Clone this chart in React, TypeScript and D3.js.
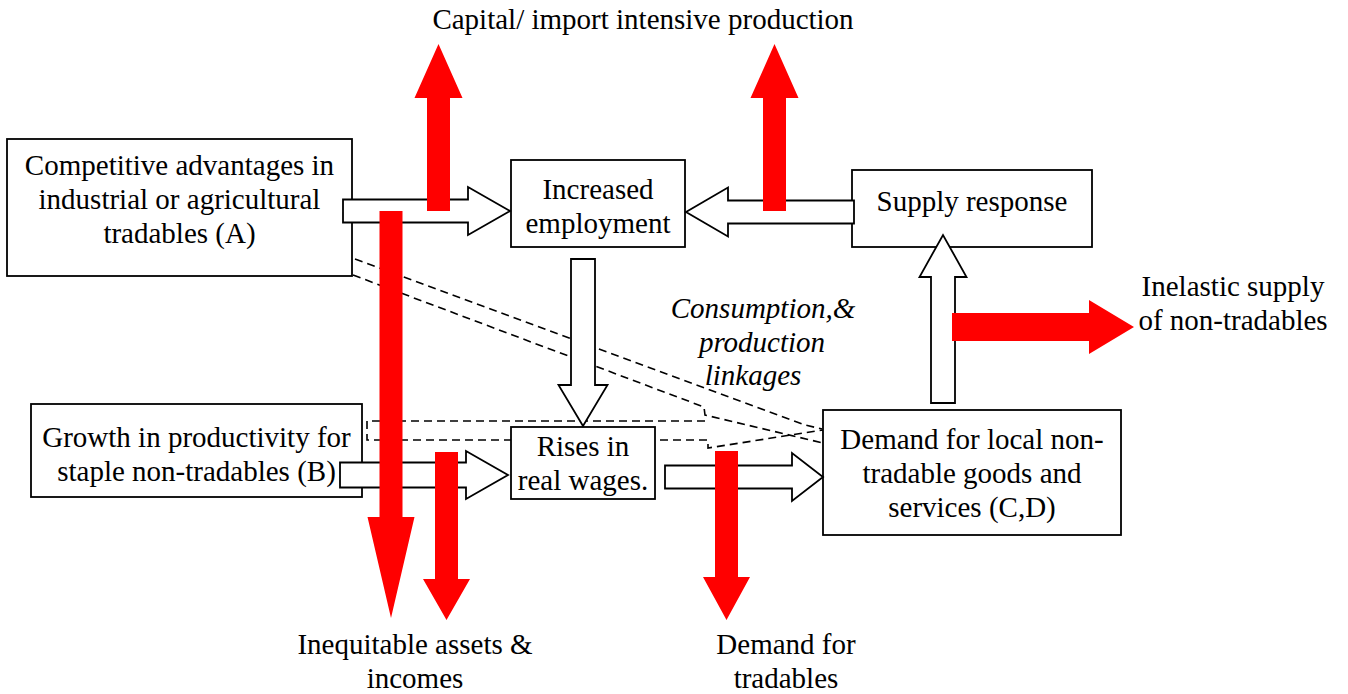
import React, { useEffect, useRef } from 'react';
import * as d3 from 'd3';

// box labels (one array of lines per box)
const boxLabels = [
  ['Competitive advantages in', 'industrial or agricultural', 'tradables (A)'],
  ['Increased', 'employment'],
  ['Supply response'],
  ['Growth in productivity for', 'staple non-tradables (B)'],
  ['Rises in', 'real wages.'],
  ['Demand for local non-', 'tradable goods and', 'services (C,D)'],
];

// free-standing labels
const freeLabels = [
  ['Capital/ import intensive production'],
  ['Inelastic supply', 'of non-tradables'],
  ['Inequitable assets &', 'incomes'],
  ['Demand for', 'tradables'],
];
const linkageLabel = ['Consumption,&', 'production', 'linkages'];

// layout: [x, y, w, h, first baseline]
const boxLayout = [
  [7, 139, 345, 137, 175],
  [511, 160, 174, 87, 199],
  [852, 170, 240, 77, 211],
  [31, 404, 331, 93, 447],
  [511, 427, 144, 72, 456],
  [823, 410, 298, 125, 449],
];
// [center x, first baseline]
const freeLayout = [
  [643, 29],
  [1233, 296],
  [415, 654],
  [786, 654],
];
const linkageLayout = [[763, 318], [762, 352], [753, 385]];

// hollow arrows: [x0, y0, x1 (tip), y1 (tip), shaft, head, headLen]
const hollowArrows = [
  [343, 211, 510, 211, 23, 48, 42],
  [854, 212, 686, 212, 23, 49, 42],
  [583, 259, 583, 426, 24, 49, 41],
  [340, 475, 508, 475, 25, 48, 42],
  [665, 477, 823, 477, 23, 48, 31],
  [943, 403, 943, 235, 24, 47, 42],
];
// red arrows
const redArrows = [
  [438.5, 211, 438.5, 44, 23, 48, 54],
  [774.5, 211, 774.5, 44, 23, 48, 54],
  [391, 211, 391, 618, 23, 47, 101],
  [446.5, 452, 446.5, 620, 23, 47, 41],
  [726.5, 451, 726.5, 620, 23, 47, 43],
  [952, 327, 1134, 327, 28, 54, 45],
];
// dashed linkage lines
const dashedLines: number[][][] = [
  [[355, 259], [805, 425], [822, 429]],
  [[353, 275], [704, 407], [705, 415], [823, 443]],
  [[705, 421], [367, 421], [367, 440], [708, 440], [708, 448], [823, 430]],
];

const FONT = '"Liberation Serif", "Times New Roman", serif';
const SIZE = 29;
const LH = 34;

function arrowPoints(a: number[]): [number, number][] {
  const [x0, y0, x1, y1, sw, hw, hl] = a;
  const L = Math.hypot(x1 - x0, y1 - y0);
  const ux = (x1 - x0) / L, uy = (y1 - y0) / L;
  const nx = -uy, ny = ux;
  const bx = x1 - ux * hl, by = y1 - uy * hl;
  const p = (x: number, y: number, k: number): [number, number] => [x + nx * k, y + ny * k];
  return [
    p(x0, y0, sw / 2),
    p(bx, by, sw / 2),
    p(bx, by, hw / 2),
    [x1, y1],
    p(bx, by, -hw / 2),
    p(bx, by, -sw / 2),
    p(x0, y0, -sw / 2),
  ];
}

export default function App() {
  const ref = useRef<SVGSVGElement>(null);

  useEffect(() => {
    const svg = d3.select(ref.current);
    svg.selectAll('*').remove();
    const line = d3.line();
    const poly = d3.line().curve(d3.curveLinearClosed);

    // dashed linkages underneath
    svg.append('g')
      .attr('fill', 'none')
      .attr('stroke', 'black')
      .attr('stroke-width', 1.6)
      .attr('stroke-dasharray', '8,5')
      .selectAll('path')
      .data(dashedLines)
      .join('path')
      .attr('d', d => line(d as [number, number][]));

    // boxes
    const boxes = svg.append('g').selectAll('g').data(boxLabels).join('g');
    boxes.append('rect')
      .attr('x', (_, i) => boxLayout[i][0])
      .attr('y', (_, i) => boxLayout[i][1])
      .attr('width', (_, i) => boxLayout[i][2])
      .attr('height', (_, i) => boxLayout[i][3])
      .attr('fill', 'white')
      .attr('stroke', 'black')
      .attr('stroke-width', 1.8);
    boxes.each(function (lines, i) {
      const [x, , w, , b] = boxLayout[i];
      d3.select(this).selectAll('text')
        .data(lines)
        .join('text')
        .attr('x', x + w / 2)
        .attr('y', (_, j) => b + j * LH)
        .attr('text-anchor', 'middle')
        .style('font-family', FONT)
        .style('font-size', `${SIZE}px`)
        .text(d => d);
    });

    // hollow arrows
    svg.append('g')
      .attr('fill', 'white')
      .attr('stroke', 'black')
      .attr('stroke-width', 1.8)
      .attr('stroke-linejoin', 'miter')
      .selectAll('path')
      .data(hollowArrows)
      .join('path')
      .attr('d', d => poly(arrowPoints(d)));

    // red arrows
    svg.append('g')
      .attr('fill', '#ff0000')
      .selectAll('path')
      .data(redArrows)
      .join('path')
      .attr('d', d => poly(arrowPoints(d)));

    // free labels
    freeLabels.forEach((lines, i) => {
      const [cx, b] = freeLayout[i];
      svg.append('g').selectAll('text')
        .data(lines)
        .join('text')
        .attr('x', cx)
        .attr('y', (_, j) => b + j * LH)
        .attr('text-anchor', 'middle')
        .style('font-family', FONT)
        .style('font-size', `${SIZE}px`)
        .text(d => d);
    });

    svg.append('g').selectAll('text')
      .data(linkageLabel)
      .join('text')
      .attr('x', (_, j) => linkageLayout[j][0])
      .attr('y', (_, j) => linkageLayout[j][1])
      .attr('text-anchor', 'middle')
      .style('font-family', FONT)
      .style('font-style', 'italic')
      .style('font-size', `${SIZE}px`)
      .text(d => d);
  }, []);

  return (
    <svg
      ref={ref}
      width={1348}
      height={694}
      style={{ position: 'absolute', left: 0, top: 0, background: 'white' }}
    />
  );
}
